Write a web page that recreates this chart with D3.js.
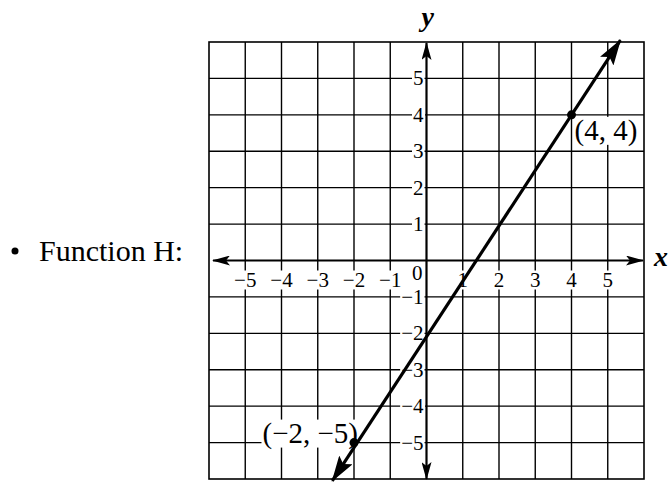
<!DOCTYPE html>
<html>
<head>
<meta charset="utf-8">
<script src="https://cdn.jsdelivr.net/npm/d3@7"></script>
<style>
  body { margin: 0; background: #fff; }
  text { font-family: "Liberation Serif", "Times New Roman", serif; fill: #000; }
</style>
</head>
<body>
<div id="vis"></div>
<script>
// values
var gridVals = [-5, -4, -3, -2, -1, 1, 2, 3, 4, 5];
var xTickLabels = ["\u22125", "\u22124", "\u22123", "\u22122", "\u22121", "1", "2", "3", "4", "5"];
var yTickLabels = ["\u22125", "\u22124", "\u22123", "\u22122", "\u22121", "1", "2", "3", "4", "5"];
var linePoints = [[-2.6, -6.05], [5.35, 6.05]];
var markedX = [4, -2];
var markedY = [4, -5];
var markedLabels = ["(4, 4)", "(\u22122, \u22125)"];
var title = "Function H:";

var width = 668, height = 483;

var x = d3.scaleLinear().domain([-6, 6]).range([209, 644]);
var y = d3.scaleLinear().domain([-6, 6]).range([479, 42]);

var svg = d3.select("#vis").append("svg")
    .attr("width", width)
    .attr("height", height);

var defs = svg.append("defs");
defs.append("marker")
    .attr("id", "axArrow")
    .attr("viewBox", "0 0 18 10")
    .attr("refX", 17).attr("refY", 5)
    .attr("markerWidth", 18).attr("markerHeight", 10)
    .attr("markerUnits", "userSpaceOnUse")
    .attr("orient", "auto-start-reverse")
  .append("path")
    .attr("d", "M0,0 L18,5 L0,10 L4,5 Z")
    .attr("fill", "#000");
defs.append("marker")
    .attr("id", "lnArrow")
    .attr("viewBox", "0 0 26 16")
    .attr("refX", 25).attr("refY", 8)
    .attr("markerWidth", 26).attr("markerHeight", 16)
    .attr("markerUnits", "userSpaceOnUse")
    .attr("orient", "auto-start-reverse")
  .append("path")
    .attr("d", "M0,0 L26,8 L0,16 L5,8 Z")
    .attr("fill", "#000");

// grid
var grid = svg.append("g").attr("stroke", "#000").attr("stroke-width", 1.4);
grid.selectAll("line.v").data(gridVals).join("line")
    .attr("class", "v")
    .attr("x1", d => x(d)).attr("x2", d => x(d))
    .attr("y1", y(6)).attr("y2", y(-6));
grid.selectAll("line.h").data(gridVals).join("line")
    .attr("class", "h")
    .attr("y1", d => y(d)).attr("y2", d => y(d))
    .attr("x1", x(-6)).attr("x2", x(6));
svg.append("rect")
    .attr("x", x(-6)).attr("y", y(6))
    .attr("width", x(6) - x(-6)).attr("height", y(-6) - y(6))
    .attr("fill", "none").attr("stroke", "#000").attr("stroke-width", 1.6);

// tick labels with white backing
var labels = svg.append("g").attr("font-size", 21);

function backed(sel) {
  sel.each(function () {
    var b = this.getBBox();
    d3.select(this.parentNode).insert("rect", function () { return this.firstChild; })
        .attr("x", b.x - 1).attr("y", b.y + 3)
        .attr("width", b.width + 2).attr("height", b.height - 5)
        .attr("fill", "#fff");
  });
}

labels.selectAll("g.xl").data(gridVals).join("g")
    .attr("class", "xl")
    .append("text")
    .attr("x", d => x(d))
    .attr("y", y(0) + 26)
    .attr("text-anchor", "middle")
    .text((d, i) => xTickLabels[i])
    .call(backed);

labels.selectAll("g.yl").data(gridVals).join("g")
    .attr("class", "yl")
    .append("text")
    .attr("x", x(0) - 3)
    .attr("y", d => y(d) + 7)
    .attr("text-anchor", "end")
    .text((d, i) => yTickLabels[i])
    .call(backed);

labels.append("g").append("text")
    .attr("x", x(0) - 4)
    .attr("y", y(0) + 19)
    .attr("text-anchor", "end")
    .text("0")
    .call(backed);

// axes
svg.append("line")
    .attr("x1", x(-6) + 4).attr("x2", x(6) - 1)
    .attr("y1", y(0)).attr("y2", y(0))
    .attr("stroke", "#000").attr("stroke-width", 2.2)
    .attr("marker-start", "url(#axArrow)")
    .attr("marker-end", "url(#axArrow)");
svg.append("line")
    .attr("x1", x(0)).attr("x2", x(0))
    .attr("y1", y(-6)).attr("y2", y(6) + 1)
    .attr("stroke", "#000").attr("stroke-width", 2.2)
    .attr("marker-start", "url(#axArrow)")
    .attr("marker-end", "url(#axArrow)");

svg.append("text")
    .attr("x", x(6) + 10).attr("y", y(0) + 5)
    .attr("font-size", 28).attr("font-style", "italic").attr("font-weight", "bold")
    .text("x");
svg.append("text")
    .attr("x", x(0) - 5).attr("y", 26)
    .attr("font-size", 28).attr("font-style", "italic").attr("font-weight", "bold")
    .text("y");

// coordinate labels
var pl = svg.append("g").attr("font-size", 29);
var plData = markedX.map((d, i) => ({x: d, y: markedY[i], label: markedLabels[i]}));
pl.selectAll("g").data(plData).join("g")
    .append("text")
    .attr("x", d => d.x > 0 ? x(d.x) + 3 : x(d.x) + 4)
    .attr("y", d => d.x > 0 ? y(d.y) + 25 : y(d.y) + 0)
    .attr("text-anchor", d => d.x > 0 ? "start" : "end")
    .text(d => d.label)
    .call(backed);

// the function line
svg.append("path")
    .datum(linePoints)
    .attr("d", d3.line().x(d => x(d[0])).y(d => y(d[1])))
    .attr("stroke", "#000").attr("stroke-width", 3.2).attr("fill", "none")
    .attr("marker-start", "url(#lnArrow)")
    .attr("marker-end", "url(#lnArrow)");

svg.selectAll("circle.pt").data(plData).join("circle")
    .attr("class", "pt")
    .attr("cx", d => x(d.x)).attr("cy", d => y(d.y))
    .attr("r", 4.5).attr("fill", "#000");

// bullet + title
svg.append("circle")
    .attr("cx", 15).attr("cy", 251).attr("r", 3.5)
    .attr("fill", "#000");
svg.append("text")
    .attr("x", 39).attr("y", 261)
    .attr("font-size", 30)
    .text(title);
</script>
</body>
</html>
